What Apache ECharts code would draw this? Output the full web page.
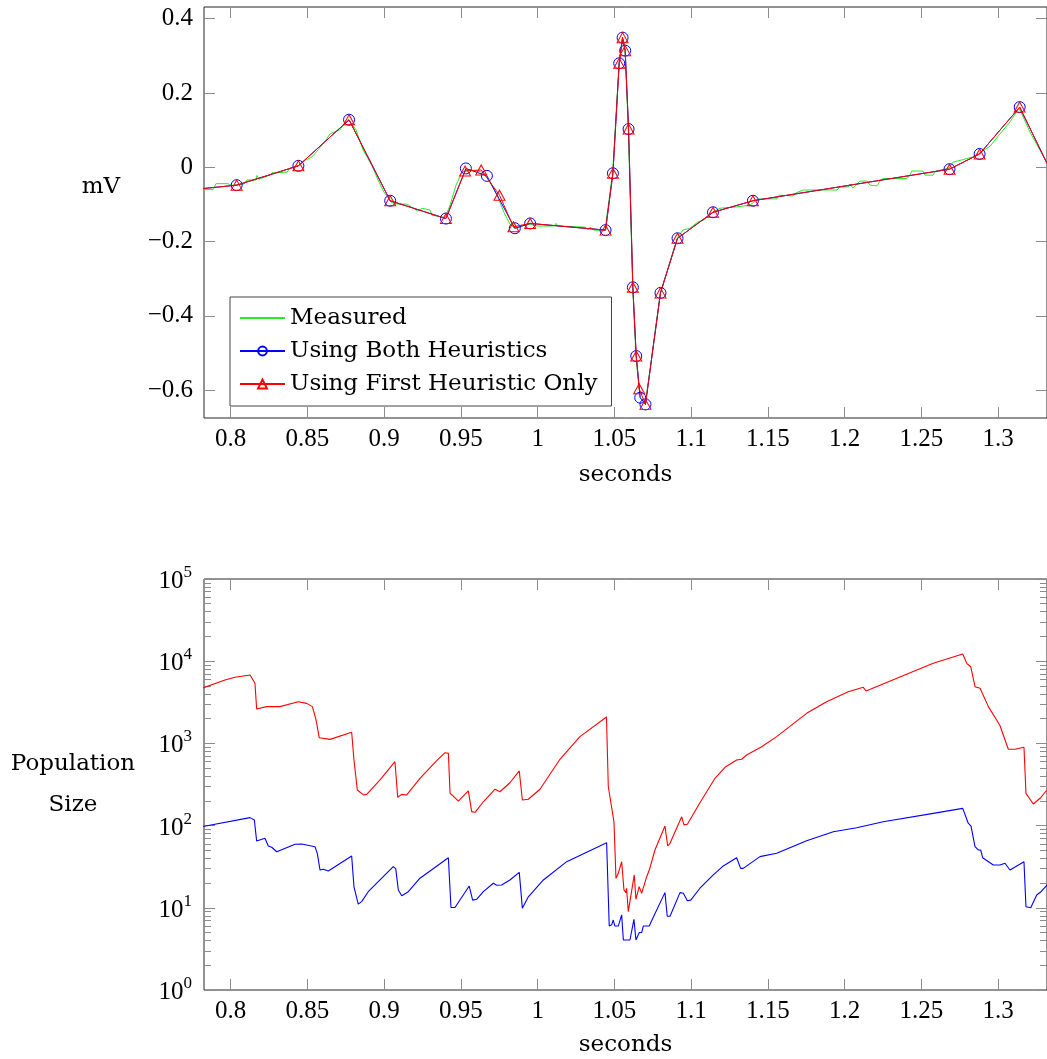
<!DOCTYPE html>
<html>
<head>
<meta charset="utf-8">
<script src="https://cdn.jsdelivr.net/npm/echarts@6/dist/echarts.min.js"></script>
<style>
  html, body { margin: 0; padding: 0; background: #fff; }
  #chart { width: 1047px; height: 1059px; }
</style>
</head>
<body>
<div id="chart"></div>
<script>
// ---- data ----
const secondsTicks = [0.8, 0.85, 0.9, 0.95, 1, 1.05, 1.1, 1.15, 1.2, 1.25, 1.3];
const mvTicks = [-0.6, -0.4, -0.2, 0, 0.2, 0.4];
const popTicks = [1, 10, 100, 1000, 10000, 100000];

// [seconds, mV]
const measured = [
    [0.7787, -0.060], [0.7885, -0.060], [0.7904, -0.044], [0.7982, -0.044], [0.8008, -0.049],
    [0.8087, -0.045], [0.8106, -0.034], [0.8165, -0.034], [0.8171, -0.022], [0.8184, -0.032],
    [0.8256, -0.021], [0.8269, -0.015], [0.8367, -0.013], [0.8386, -0.002], [0.8438, 0.004],
    [0.8490, 0.020], [0.8530, 0.028], [0.8569, 0.047], [0.8621, 0.074], [0.8647, 0.090],
    [0.8693, 0.098], [0.8712, 0.101], [0.8732, 0.114], [0.8771, 0.126], [0.8816, 0.101],
    [0.8862, 0.047], [0.8921, 0.004], [0.8960, -0.034], [0.8999, -0.067], [0.9045, -0.094],
    [0.9083, -0.099], [0.9149, -0.099], [0.9188, -0.110], [0.9220, -0.118], [0.9247, -0.110],
    [0.9298, -0.115], [0.9312, -0.129], [0.9396, -0.135], [0.9429, -0.102], [0.9468, -0.048],
    [0.9507, -0.013], [0.9546, -0.007], [0.9611, -0.010], [0.9650, -0.015], [0.9689, -0.040],
    [0.9735, -0.075], [0.9780, -0.121], [0.9819, -0.153], [0.9852, -0.164], [0.9898, -0.158],
    [0.9950, -0.153], [0.9995, -0.158], [1.0106, -0.158], [1.0119, -0.151], [1.0132, -0.158],
    [1.0308, -0.161], [1.0328, -0.168], [1.0341, -0.161], [1.0367, -0.169], [1.0438, -0.170],
    [1.0488, -0.016], [1.0530, 0.281], [1.0551, 0.349], [1.0569, 0.314], [1.0590, 0.103],
    [1.0619, -0.323], [1.0640, -0.508], [1.0666, -0.619], [1.0701, -0.638], [1.0799, -0.338],
    [1.0909, -0.191], [1.0946, -0.169], [1.0992, -0.164], [1.1044, -0.147], [1.1083, -0.142],
    [1.1140, -0.121], [1.1188, -0.110], [1.1286, -0.107], [1.1383, -0.102], [1.1416, -0.091],
    [1.1435, -0.085], [1.1559, -0.085], [1.1572, -0.075], [1.1664, -0.077], [1.1683, -0.069],
    [1.1729, -0.061], [1.1950, -0.061], [1.1969, -0.053], [1.2022, -0.053], [1.2035, -0.045],
    [1.2054, -0.056], [1.2100, -0.037], [1.2145, -0.037], [1.2165, -0.048], [1.2211, -0.050],
    [1.2230, -0.037], [1.2250, -0.030], [1.2406, -0.030], [1.2425, -0.021], [1.2438, -0.010],
    [1.2510, -0.010], [1.2523, -0.021], [1.2575, -0.021], [1.2595, -0.010], [1.2680, -0.002],
    [1.2706, 0.014], [1.2764, 0.020], [1.2836, 0.028], [1.2881, 0.039], [1.2947, 0.057],
    [1.3012, 0.090], [1.3077, 0.122], [1.3136, 0.160], [1.3207, 0.095], [1.3318, 0.012],
    [1.3377, -0.040]
];

const bothHeuristics = [
    [0.780, -0.058], [0.8039, -0.048], [0.8441, 0.004], [0.8771, 0.128], [0.9039, -0.090],
    [0.9402, -0.138], [0.9532, -0.003], [0.9669, -0.023], [0.9851, -0.164], [0.9951, -0.151],
    [1.0442, -0.169], [1.0490, -0.016], [1.0531, 0.280], [1.0553, 0.349], [1.0570, 0.314],
    [1.0592, 0.103], [1.0620, -0.323], [1.0642, -0.508], [1.0668, -0.620], [1.0702, -0.638],
    [1.0800, -0.338], [1.0911, -0.191], [1.1142, -0.121], [1.1402, -0.090], [1.2683, -0.005],
    [1.2879, 0.036], [1.3140, 0.162], [1.338, -0.042]
];

const firstHeuristic = [
    [0.780, -0.058], [0.8039, -0.048], [0.8441, 0.004], [0.8771, 0.128], [0.9039, -0.090],
    [0.9402, -0.138], [0.9527, -0.010], [0.9632, -0.007], [0.9751, -0.075], [0.9842, -0.160],
    [0.9951, -0.151], [1.0442, -0.169], [1.0490, -0.016], [1.0531, 0.280], [1.0553, 0.349],
    [1.0570, 0.314], [1.0592, 0.103], [1.0620, -0.323], [1.0642, -0.508], [1.0661, -0.596],
    [1.0702, -0.638], [1.0800, -0.338], [1.0911, -0.191], [1.1142, -0.121], [1.1402, -0.090],
    [1.2683, -0.005], [1.2879, 0.036], [1.3140, 0.162], [1.338, -0.042]
];

// [seconds, population size]
const popFirst = [
    [0.780, 4600], [0.7963, 5900], [0.8028, 6370], [0.8126, 6790], [0.8158, 5380],
    [0.8169, 2620], [0.8234, 2800], [0.8321, 2800], [0.8440, 3210], [0.8495, 3070],
    [0.8532, 2800], [0.8556, 1930], [0.8577, 1170], [0.8647, 1120], [0.8788, 1365],
    [0.8803, 628], [0.8825, 271], [0.8864, 236], [0.8886, 240], [0.8973, 359],
    [0.9070, 599], [0.9088, 221], [0.9114, 240], [0.9147, 236], [0.9233, 376],
    [0.9342, 616], [0.9396, 771], [0.9418, 758], [0.9429, 247], [0.9450, 229],
    [0.9483, 199], [0.9548, 264], [0.9570, 148], [0.9592, 145], [0.9646, 195],
    [0.9722, 277], [0.9754, 258], [0.9819, 332], [0.9880, 462], [0.9900, 205],
    [0.9939, 209], [1.0015, 277], [1.0145, 641], [1.0275, 1208], [1.0448, 2094],
    [1.0460, 297], [1.0497, 111], [1.0510, 22.8], [1.0525, 26.3], [1.0547, 36.4],
    [1.0562, 16.5], [1.0575, 15.3], [1.0579, 17.3], [1.0590, 9.0], [1.0601, 9.2],
    [1.0629, 25.1], [1.0640, 12.7], [1.0661, 18.1], [1.0677, 15.0], [1.0710, 23.9],
    [1.0727, 28.8], [1.0764, 50.5], [1.0829, 98.9], [1.0847, 56.5], [1.0862, 60.9],
    [1.0938, 128], [1.0953, 102], [1.0975, 104], [1.1057, 190], [1.1155, 376],
    [1.1220, 512], [1.1296, 628], [1.1329, 641], [1.1361, 723], [1.1459, 912],
    [1.1557, 1208], [1.1752, 2323], [1.1882, 3214], [1.2023, 4255], [1.2121, 4810],
    [1.2139, 4340], [1.2577, 9430], [1.2769, 12240], [1.2795, 9430], [1.2821, 8570],
    [1.2849, 4895], [1.2882, 4680], [1.2936, 2800], [1.2990, 1930], [1.3012, 1642],
    [1.3066, 848], [1.3110, 848], [1.3168, 898], [1.3181, 247], [1.3229, 183],
    [1.3273, 215], [1.3318, 271], [1.3370, 349]
];

const popBoth = [
    [0.780, 96], [0.8126, 125], [0.8154, 117], [0.8169, 65], [0.8223, 70],
    [0.8245, 56.5], [0.8267, 54.5], [0.8300, 48.1], [0.8419, 59.3], [0.8462, 59.8],
    [0.8549, 55.4], [0.8564, 46], [0.8582, 28.8], [0.8603, 29.5], [0.8636, 28],
    [0.8788, 42.7], [0.8803, 18], [0.8831, 11.1], [0.8853, 11.9], [0.8896, 15.7],
    [0.9059, 31.6], [0.9075, 30], [0.9092, 16.5], [0.9114, 14], [0.9157, 15.7],
    [0.9233, 22.9], [0.9418, 40.7], [0.9435, 10.1], [0.9461, 10.1], [0.9554, 18.4],
    [0.9576, 12.4], [0.9602, 12.7], [0.9646, 15.7], [0.9711, 19.9], [0.9733, 18.8],
    [0.9765, 18.9], [0.9819, 21.8], [0.9880, 27], [0.9900, 9.9], [0.9939, 13.6],
    [1.0037, 21.8], [1.0189, 36.4], [1.0449, 61.9], [1.0466, 6.0], [1.0482, 6.2],
    [1.0492, 7.1], [1.0503, 6.0], [1.0525, 6.0], [1.0547, 8.2], [1.0558, 4.06],
    [1.0601, 4.06], [1.0627, 7.25], [1.0640, 4.06], [1.0662, 5.0], [1.0677, 5.0],
    [1.0688, 6.0], [1.0727, 6.0], [1.0743, 7.0], [1.0829, 15.3], [1.0844, 7.9],
    [1.0862, 7.9], [1.0927, 15.3], [1.0949, 15], [1.0975, 12.2], [1.0997, 12.4],
    [1.1057, 17.3], [1.1144, 25.1], [1.1209, 32.3], [1.1296, 40.7], [1.1322, 30.2],
    [1.1339, 30.2], [1.1448, 41.9], [1.1557, 46], [1.1752, 65.5], [1.1926, 84.3],
    [1.2078, 94.3], [1.2251, 111.5], [1.2577, 141], [1.2769, 162], [1.2805, 107],
    [1.2823, 98.5], [1.2849, 55.4], [1.2870, 50.5], [1.2886, 50.5], [1.2899, 40.7],
    [1.2968, 33.2], [1.3012, 33.2], [1.3044, 34.8], [1.3077, 28.8], [1.3168, 36.4],
    [1.3181, 10.3], [1.3212, 10.0], [1.3251, 14.3], [1.3279, 15.7], [1.3318, 18.9],
    [1.3370, 21.8]
];

// minor ticks of the log axis: 2..9 in every decade
const popMinorTicks = popTicks.slice(0, -1).flatMap(d => [2, 3, 4, 5, 6, 7, 8, 9].map(m => m * d));

// ---- chart ----
const X_MIN = 0.7826, X_MAX = 1.3318;
const NUM_FONT = 'Liberation Serif';
const TEXT_FONT = 'DejaVu Serif';
const TICK_COLOR = '#8c8c8c';

const tickOnly = (vals, len) => ({
    show: true, inside: true, length: len, customValues: vals,
    lineStyle: { color: TICK_COLOR, width: 1 }
});

const xAxisFor = (gridIndex, position, withLabels) => ({
    type: 'value', gridIndex, position, min: X_MIN, max: X_MAX,
    axisLine: { show: false, onZero: false },
    splitLine: { show: false },
    axisTick: tickOnly(secondsTicks, 11),
    axisLabel: withLabels ? {
        show: true, customValues: secondsTicks, margin: 9,
        fontFamily: NUM_FONT, fontSize: 25, color: '#000',
        formatter: v => String(Math.round(v * 100) / 100)
    } : { show: false },
    name: withLabels ? 'seconds' : '',
    nameLocation: 'middle',
    nameGap: gridIndex === 0 ? 57 : 55,
    nameTextStyle: { fontFamily: TEXT_FONT, fontSize: 23, color: '#000', verticalAlign: 'middle' }
});

const logAxis = (position, ticks, len, withLabels) => ({
    type: 'log', logBase: 10, gridIndex: 1, position, min: 1, max: 100000,
    axisLine: { show: false, onZero: false },
    splitLine: { show: false },
    minorTick: { show: false },
    axisTick: tickOnly(ticks, len),
    axisLabel: withLabels ? {
        show: true, customValues: popTicks, margin: 12,
        formatter: v => '{b|10}{s|' + Math.round(Math.log10(v)) + '}',
        rich: {
            b: { fontFamily: NUM_FONT, fontSize: 25, color: '#000', lineHeight: 30, verticalAlign: 'bottom' },
            s: { fontFamily: NUM_FONT, fontSize: 17, color: '#000', lineHeight: 17, verticalAlign: 'top' }
        }
    } : { show: false }
});

const chart = echarts.init(document.getElementById('chart'), null, { renderer: 'canvas' });

const option = {
    animation: false,
    backgroundColor: '#fff',
    grid: [
        { left: 204, top: 7, width: 843, height: 411, show: true, borderColor: '#262626', borderWidth: 1, backgroundColor: 'transparent', outerBoundsMode: 'none' },
        { left: 204, top: 579, width: 843, height: 411, show: true, borderColor: '#262626', borderWidth: 1, backgroundColor: 'transparent', outerBoundsMode: 'none' }
    ],
    xAxis: [
        xAxisFor(0, 'bottom', true),
        xAxisFor(0, 'top', false),
        xAxisFor(1, 'bottom', true),
        xAxisFor(1, 'top', false)
    ],
    yAxis: [
        {
            type: 'value', gridIndex: 0, position: 'left', min: -0.6747, max: 0.4315,
            axisLine: { show: false, onZero: false }, splitLine: { show: false },
            axisTick: tickOnly(mvTicks, 11),
            axisLabel: {
                show: true, customValues: mvTicks, margin: 11,
                fontFamily: NUM_FONT, fontSize: 25, color: '#000',
                formatter: v => {
                    const r = Math.round(v * 10) / 10;
                    return r < 0 ? '\u2212' + Math.abs(r) : String(r);
                }
            }
        },
        {
            type: 'value', gridIndex: 0, position: 'right', min: -0.6747, max: 0.4315,
            axisLine: { show: false, onZero: false }, splitLine: { show: false },
            axisTick: tickOnly(mvTicks, 11),
            axisLabel: { show: false }
        },
        logAxis('left', popTicks, 11, true),
        logAxis('left', popMinorTicks, 7, false),
        logAxis('right', popTicks, 11, false),
        logAxis('right', popMinorTicks, 7, false)
    ],
    legend: {
        data: [
            { name: 'Measured', itemStyle: { color: 'rgba(0,0,0,0)', borderColor: 'rgba(0,0,0,0)', borderWidth: 0, opacity: 0 } },
            'Using Both Heuristics',
            'Using First Heuristic Only'
        ],
        orient: 'vertical',
        left: 230, top: 297,
        padding: [9, 14, 10, 9],
        itemGap: 9,
        itemWidth: 45,
        itemHeight: 11,
        borderColor: '#444',
        borderWidth: 1,
        backgroundColor: '#fff',
        selectedMode: false,
        textStyle: { fontFamily: TEXT_FONT, fontSize: 23, color: '#000', lineHeight: 24 }
    },
    graphic: [
        {
            type: 'text', x: 101, y: 187,
            style: { text: 'mV', fontFamily: TEXT_FONT, fontSize: 23, fill: '#000', align: 'center', verticalAlign: 'middle' }
        },
        {
            type: 'text', x: 73, y: 785,
            style: { text: 'Population\nSize', fontFamily: TEXT_FONT, fontSize: 23, lineHeight: 41, fill: '#000', align: 'center', verticalAlign: 'middle' }
        }
    ],
    series: [
        {
            name: 'Measured', type: 'line', xAxisIndex: 0, yAxisIndex: 0,
            data: measured, symbol: 'none', color: '#22ee22',
            lineStyle: { color: '#22ee22', width: 1 }, z: 2
        },
        {
            name: 'Using Both Heuristics', type: 'line', xAxisIndex: 0, yAxisIndex: 0,
            data: bothHeuristics, symbol: 'circle', symbolSize: 11, color: '#0000ff',
            lineStyle: { color: '#0000ff', width: 1 },
            itemStyle: { color: 'rgba(255,255,255,0)', borderColor: '#0000ff', borderWidth: 1 }, z: 3
        },
        {
            name: 'Using First Heuristic Only', type: 'line', xAxisIndex: 0, yAxisIndex: 0,
            data: firstHeuristic, symbol: 'triangle', symbolSize: [11, 10], color: '#ff0000',
            lineStyle: { color: '#ff0000', width: 1 },
            itemStyle: { color: 'rgba(255,255,255,0)', borderColor: '#ff0000', borderWidth: 1 }, z: 4
        },
        {
            name: 'Population (First Heuristic)', type: 'line', xAxisIndex: 2, yAxisIndex: 2,
            data: popFirst, symbol: 'none', color: '#ff0000',
            lineStyle: { color: '#ff0000', width: 1.1 }
        },
        {
            name: 'Population (Both Heuristics)', type: 'line', xAxisIndex: 2, yAxisIndex: 2,
            data: popBoth, symbol: 'none', color: '#0000ff',
            lineStyle: { color: '#0000ff', width: 1.1 }
        }
    ]
};

chart.setOption(option);
</script>
</body>
</html>
